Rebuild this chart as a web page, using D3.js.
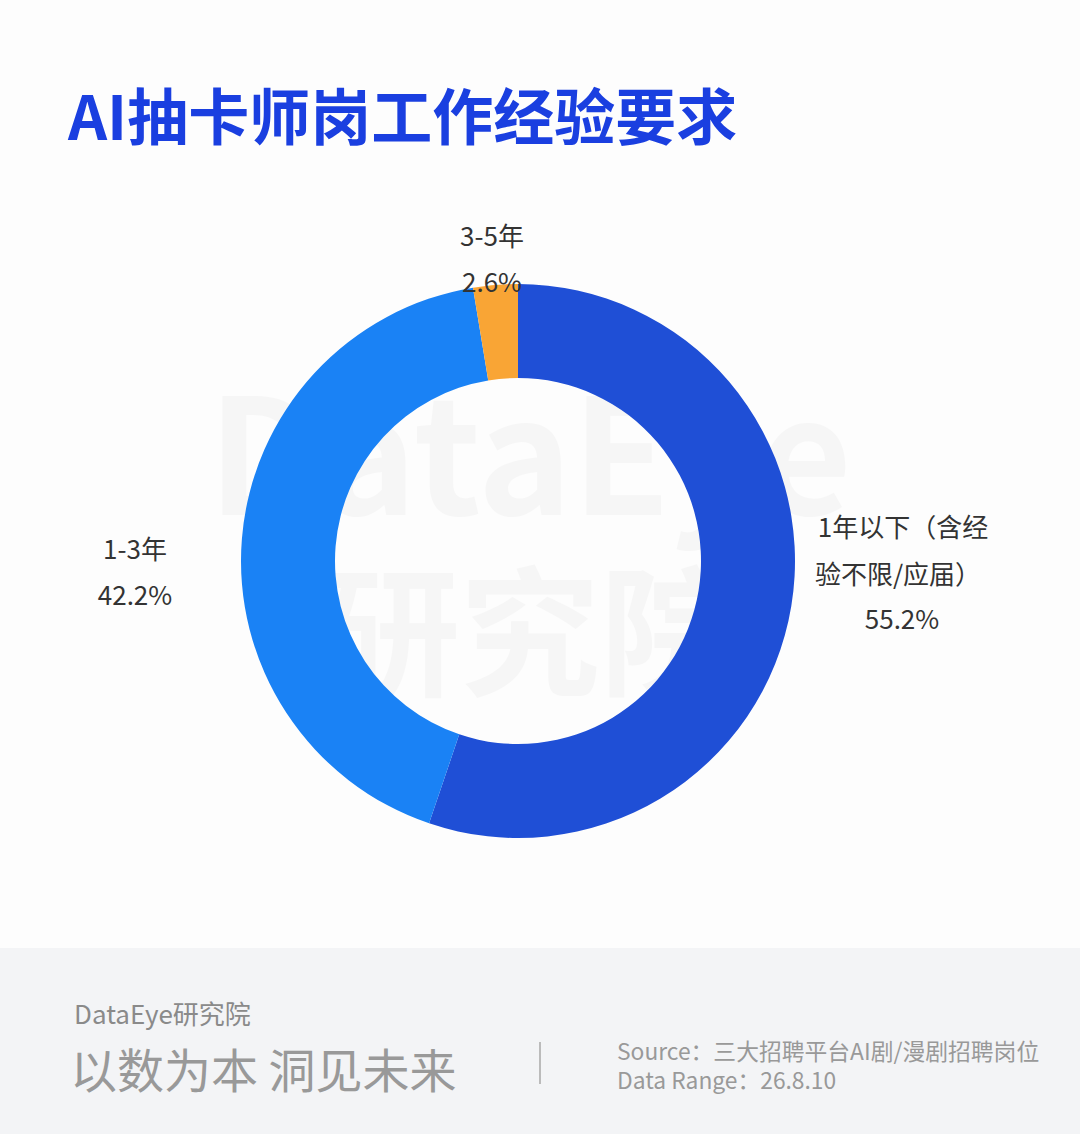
<!DOCTYPE html>
<html><head><meta charset="utf-8">
<script src="https://cdn.jsdelivr.net/npm/d3@7"></script>
<style>body{margin:0;background:#fdfdfd}svg{display:block}text{font-family:"Noto Sans CJK SC","Noto Sans",sans-serif}</style>
</head><body>
<script>
const categories = ["1年以下（含经验不限/应届）","1-3年","3-5年"];
const values = [55.2, 42.2, 2.6];
const colors = ["#1f4fd6","#1a82f5","#f9a535"];

const W=1080,H=1134;
const svg=d3.select("body").append("svg").attr("width",W).attr("height",H);
svg.append("rect").attr("width",W).attr("height",H).attr("fill","#fdfdfd");
// watermark
svg.append("text").attr("x",530).attr("y",515).attr("text-anchor","middle").attr("font-size",160).attr("font-weight","bold").attr("fill","#000").attr("opacity",0.022).text("DataEye");
svg.append("text").attr("x",530).attr("y",685).attr("text-anchor","middle").attr("font-size",140).attr("font-weight","bold").attr("fill","#000").attr("opacity",0.022).text("研究院");

svg.append("text").attr("x",68).attr("y",140).attr("font-size",61).attr("font-weight","bold").attr("fill","#1a3fe0").text("AI抽卡师岗工作经验要求");

const cx=518,cy=561;
const pie=d3.pie().sort(null).value(d=>d);
const arc=d3.arc().innerRadius(183).outerRadius(277);
const g=svg.append("g").attr("transform",`translate(${cx},${cy})`);
g.selectAll("path").data(pie(values)).join("path").attr("d",arc).attr("fill",(d,i)=>colors[i]);

const lab=svg.append("g").attr("font-size",26).attr("fill","#333").attr("text-anchor","middle");
function t(x,y,s){lab.append("text").attr("x",x).attr("y",y).text(s);}
t(492,246,"3-5年"); t(492,292,values[2]+"%");
t(135,559,"1-3年"); t(135,605,values[1]+"%");
t(903,537,"1年以下（含经"); t(898,584,"验不限/应届）"); t(902,629,values[0]+"%");

svg.append("rect").attr("y",948).attr("width",W).attr("height",H-948).attr("fill","#f3f4f6");
svg.append("text").attr("x",74).attr("y",1024).attr("font-size",26).attr("fill","#8a8a8a").text("DataEye研究院");
svg.append("text").attr("x",70).attr("y",1088).attr("font-size",47).attr("fill","#999").text("以数为本 洞见未来");
svg.append("line").attr("x1",540).attr("x2",540).attr("y1",1042).attr("y2",1084).attr("stroke","#bbb").attr("stroke-width",2);
svg.append("text").attr("x",617).attr("y",1060).attr("font-size",22.8).attr("fill","#999").text("Source：三大招聘平台AI剧/漫剧招聘岗位");
svg.append("text").attr("x",617).attr("y",1089).attr("font-size",22.8).attr("fill","#999").text("Data Range：26.8.10");
</script>
</body></html>
